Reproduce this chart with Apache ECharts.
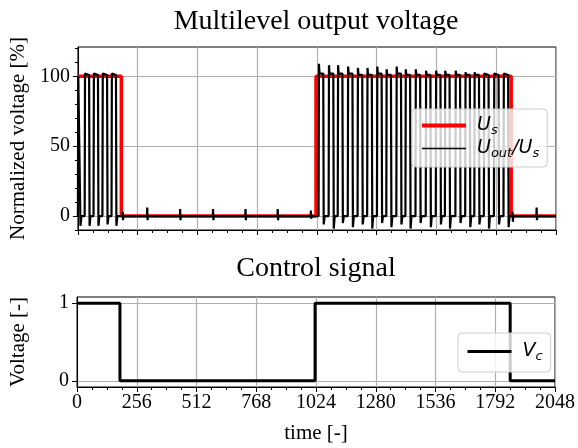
<!DOCTYPE html>
<html>
<head>
<meta charset="utf-8">
<script src="https://cdn.jsdelivr.net/npm/echarts@6/dist/echarts.min.js"></script>
<style>
  html, body { margin: 0; padding: 0; background: #fff; }
  #chart { width: 578px; height: 448px; }
</style>
</head>
<body>
<div id="chart"></div>
<script>
// ---- data ----
const xTicks = [0, 256, 512, 768, 1024, 1280, 1536, 1792, 2048];
const topYTicks = [0, 50, 100];
const topYMinor = [-10, 0, 10, 20, 30, 40, 50, 60, 70, 80, 90, 100, 110, 120];
const botYTicks = [0, 1];

// supply voltage U_s (step changes)
const usTimes = [0, 186, 1020, 1856, 2048];
const usValues = [100, 0, 100, 0, 0];

// control signal V_c (step changes)
const vcTimes = [0, 184, 1020, 1856, 2048];
const vcValues = [1, 0, 1, 0, 0];

// output pulses U_out/U_s: rise time, fall time, peak at rise, level while on, dip after fall
const pulseRise = [0, 29, 67, 105, 144,
  1031, 1074, 1113, 1156, 1198, 1239, 1281, 1321, 1364, 1403,
  1446, 1490, 1533, 1572, 1617, 1659, 1698, 1739, 1782, 1823];
const pulseFall = [9, 48, 86, 125, 163,
  1051, 1094, 1133, 1176, 1218, 1259, 1301, 1341, 1384, 1423,
  1466, 1510, 1553, 1592, 1637, 1679, 1718, 1759, 1802, 1843];
const pulsePeak = [100, 102, 102, 102, 102,
  109, 108, 108, 107, 106, 106, 107, 105, 107, 105,
  105, 104, 104, 104, 104, 103, 103, 102, 102, 102];
const pulseLevel = [100, 101, 101, 101, 101,
  102, 102, 102, 102, 101, 101, 102, 101, 102, 101,
  101, 101, 101, 101, 101, 101, 101, 101, 101, 101];
const pulseDip = [-7, -7, -7, -6, -7,
  -6, -9, -5, -8, -6, -9, -5, -8, -6, -9,
  -5, -8, -6, -9, -5, -8, -6, -9, -6, -8];

// small switching blips while the output is off
const blipTimes = [192, 297, 438, 579, 718, 856, 998, 1862, 1965];
const blipUp = [3, 6, 5, 5, 5, 5, 4, 3, 6];
const blipDown = [-3, -3, -3, -3, -3, -3, -2, -4, -3];

// ---- build series points ----
function stepData(t, v) {
  return t.map((x, i) => [x, v[i]]);
}

function outputData() {
  const pts = [];
  pulseRise.forEach((r, i) => {
    const f = pulseFall[i];
    pts.push([r, 0], [r + 1.5, pulsePeak[i]], [r + 4, pulseLevel[i]], [f, pulseLevel[i]],
             [f + 2, pulseDip[i]], [f + 6, 0]);
  });
  blipTimes.forEach((t, i) => {
    pts.push([t - 1, 0], [t, blipUp[i]], [t + 1.5, blipDown[i]], [t + 3, 0]);
  });
  pts.push([2048, 0]);
  pts.sort((a, b) => a[0] - b[0]);
  return pts;
}

const serif = 'Liberation Serif';
const gridColor = '#b0b0b0';

const legendText = {
  'Us': '{i|U}{sub|s}',
  'Uout/Us': '{i|U}{sub|out}{i|/U}{sub|s}',
  'Vc': '{i|V}{sub|c}'
};
const legendRich = {
  i: { fontFamily: 'DejaVu Sans', fontStyle: 'italic', fontSize: 19, color: '#000' },
  sub: { fontFamily: 'DejaVu Sans', fontStyle: 'italic', fontSize: 13, color: '#000', padding: [10, 0, 0, 0] }
};

function xAxisBase(gridIndex, showLabels) {
  return {
    type: 'value', gridIndex: gridIndex, min: 0, max: 2048, interval: 256,
    axisLine: { show: true, onZero: false, lineStyle: { color: '#000', width: 1 } },
    axisTick: { show: true, length: 5, lineStyle: { color: '#000' } },
    minorTick: { show: true, splitNumber: 4, length: 3, lineStyle: { color: '#000' } },
    axisLabel: { show: showLabels, fontFamily: serif, fontSize: 20, color: '#000', margin: 6,
      customValues: xTicks, formatter: v => String(v) },
    splitLine: { show: true, lineStyle: { color: gridColor, width: 1.2 } },
    name: showLabels ? 'time [-]' : '',
    nameLocation: 'middle', nameGap: 36,
    nameTextStyle: { fontFamily: serif, fontSize: 21, color: '#000' }
  };
}

const legendBox = {
  orient: 'vertical', itemGap: 2, itemWidth: 44, itemHeight: 18,
  backgroundColor: 'rgba(255,255,255,0.8)', borderColor: '#cccccc', borderWidth: 1, borderRadius: 4,
  formatter: name => legendText[name],
  textStyle: { rich: legendRich, padding: [0, 0, 0, 6] }
};

const chart = echarts.init(document.getElementById('chart'));
chart.setOption({
  animation: false,
  backgroundColor: '#fff',
  graphic: [
    { type: 'text', x: 316, y: 22, style: { text: 'Multilevel output voltage', textAlign: 'center',
      textVerticalAlign: 'middle', fontFamily: serif, fontSize: 28, fill: '#000' } },
    { type: 'text', x: 316, y: 269, style: { text: 'Control signal', textAlign: 'center',
      textVerticalAlign: 'middle', fontFamily: serif, fontSize: 28, fill: '#000' } }
  ],
  grid: [
    { left: 76, top: 47, width: 480, height: 183, show: true, borderColor: '#000', borderWidth: 1 },
    { left: 76, top: 297, width: 480, height: 90, show: true, borderColor: '#000', borderWidth: 1 }
  ],
  xAxis: [xAxisBase(0, false), xAxisBase(1, true)],
  yAxis: [
    {
      type: 'value', gridIndex: 0, position: 'left', min: -10, max: 121,
      axisLine: { show: true, lineStyle: { color: '#000' } },
      axisTick: { show: true, length: 5, lineStyle: { color: '#000' }, customValues: topYTicks },
      axisLabel: { fontFamily: serif, fontSize: 20, color: '#000', margin: 8, customValues: topYTicks },
      splitLine: { show: true, lineStyle: { color: gridColor, width: 1.2 } },
      name: 'Normalized voltage [%]', nameLocation: 'middle', nameGap: 48,
      nameTextStyle: { fontFamily: serif, fontSize: 21, color: '#000' }
    },
    {
      type: 'value', gridIndex: 0, position: 'left', min: -10, max: 121,
      axisLine: { show: false },
      axisTick: { show: true, length: 3, lineStyle: { color: '#000' }, customValues: topYMinor },
      axisLabel: { show: false },
      splitLine: { show: false }
    },
    {
      type: 'value', gridIndex: 1, position: 'left', min: -0.08, max: 1.08,
      axisLine: { show: true, lineStyle: { color: '#000' } },
      axisTick: { show: true, length: 5, lineStyle: { color: '#000' }, customValues: botYTicks },
      axisLabel: { fontFamily: serif, fontSize: 20, color: '#000', margin: 8, customValues: botYTicks },
      splitLine: { show: true, lineStyle: { color: gridColor, width: 1.2 } },
      name: 'Voltage [-]', nameLocation: 'middle', nameGap: 48,
      nameTextStyle: { fontFamily: serif, fontSize: 21, color: '#000' }
    }
  ],
  legend: [
    Object.assign({}, legendBox, {
      left: 412, top: 109, padding: [7, 8, 7, 8],
      data: [
        { name: 'Us', lineStyle: { width: 4, color: '#ff0000' }, itemStyle: { opacity: 0 } },
        { name: 'Uout/Us', lineStyle: { width: 1.5, color: '#000' }, itemStyle: { opacity: 0 } }
      ]
    }),
    Object.assign({}, legendBox, {
      left: 458, top: 333, padding: [9, 8, 9, 8],
      data: [{ name: 'Vc', lineStyle: { width: 3, color: '#000' }, itemStyle: { opacity: 0 } }]
    })
  ],
  series: [
    {
      name: 'Us', type: 'line', xAxisIndex: 0, yAxisIndex: 0, step: 'end',
      showSymbol: false, symbol: 'none', z: 2,
      lineStyle: { color: '#ff0000', width: 3.5 }, itemStyle: { color: '#ff0000' },
      data: stepData(usTimes, usValues)
    },
    {
      name: 'Uout/Us', type: 'line', xAxisIndex: 0, yAxisIndex: 0,
      showSymbol: false, symbol: 'none', z: 3,
      lineStyle: { color: '#000', width: 2.2 }, itemStyle: { color: '#000' },
      data: outputData()
    },
    {
      name: 'Vc', type: 'line', xAxisIndex: 1, yAxisIndex: 2, step: 'end',
      showSymbol: false, symbol: 'none', z: 3,
      lineStyle: { color: '#000', width: 3 }, itemStyle: { color: '#000' },
      data: stepData(vcTimes, vcValues)
    }
  ]
});
</script>
</body>
</html>
